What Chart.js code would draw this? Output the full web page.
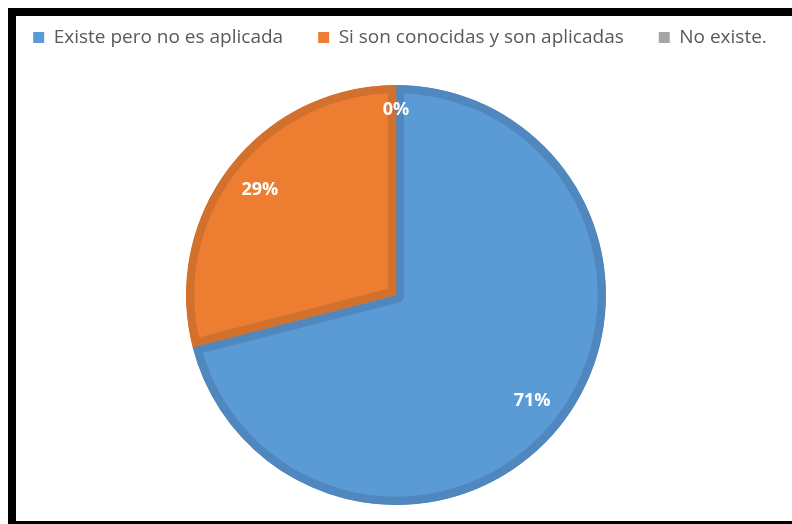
<!DOCTYPE html>
<html>
<head>
<meta charset="utf-8">
<script src="https://cdn.jsdelivr.net/npm/chart.js@4"></script>
<style>
  html, body { margin: 0; padding: 0; background: #fff; }
  body { width: 792px; height: 524px; position: relative; overflow: hidden; }
  /* black frame round the chart (no right edge) */
  .frame {
    position: absolute; left: 8px; top: 8px; right: -20px; bottom: 0;
    border-left: 8px solid #000; border-top: 8px solid #000; border-bottom: 3px solid #000;
  }
  #chart { position: absolute; left: 0; top: 0; }
</style>
</head>
<body>
<div class="frame"></div>
<canvas id="chart" width="792" height="524"></canvas>
<script>
// ====== DATA ======
const labels   = ['Existe pero no es aplicada', 'Si son conocidas y son aplicadas', 'No existe.'];
const percents = [71, 29, 0];

// ====== STYLE ======
const fills   = ['#5b9bd5', '#ed7d31', '#a5a5a5'];
const borders = ['#4f87be', '#d2702d', '#8f8f8f'];

// Extra space between the legend and the pie
const legendGap = {
  id: 'legendGap',
  beforeInit(chart) {
    const fit = chart.legend.fit;
    chart.legend.fit = function () {
      fit.call(this);
      this.height += 28;
    };
  }
};

// Percent labels drawn inside each slice
const sliceLabels = {
  id: 'sliceLabels',
  afterDatasetsDraw(chart) {
    const ctx = chart.ctx;
    const meta = chart.getDatasetMeta(0);
    ctx.save();
    ctx.fillStyle = '#ffffff';
    ctx.font = 'bold 18px "Open Sans", sans-serif';
    ctx.textAlign = 'center';
    ctx.textBaseline = 'middle';
    meta.data.forEach((arc, i) => {
      const p = arc.getProps(['x', 'y', 'startAngle', 'endAngle', 'outerRadius'], true);
      const mid = (p.startAngle + p.endAngle) / 2;
      const f = percents[i] === 0 ? 0.88 : 0.82;
      const x = p.x + Math.cos(mid) * p.outerRadius * f;
      const y = p.y + Math.sin(mid) * p.outerRadius * f;
      ctx.fillText(percents[i] + '%', x, y);
    });
    ctx.restore();
  }
};

new Chart(document.getElementById('chart').getContext('2d'), {
  type: 'pie',
  data: {
    labels: labels,
    datasets: [{
      data: percents,
      backgroundColor: fills,
      borderColor: borders,
      borderWidth: 8,
      borderAlign: 'inner'
    }]
  },
  options: {
    responsive: false,
    animation: false,
    // negative side padding lets the single legend row run wide
    layout: { padding: { top: -7, bottom: 19, left: -16, right: -24 } },
    plugins: {
      tooltip: { enabled: false },
      legend: {
        position: 'top',
        labels: {
          boxWidth: 11,
          boxHeight: 11,
          padding: 35,
          color: '#595959',
          font: { family: '"Open Sans", sans-serif', size: 19 },
          generateLabels(chart) {
            return Chart.overrides.pie.plugins.legend.labels.generateLabels(chart).map(item => {
              item.strokeStyle = item.fillStyle;
              item.lineWidth = 0;
              return item;
            });
          }
        }
      }
    }
  },
  plugins: [legendGap, sliceLabels]
});
</script>
</body>
</html>
